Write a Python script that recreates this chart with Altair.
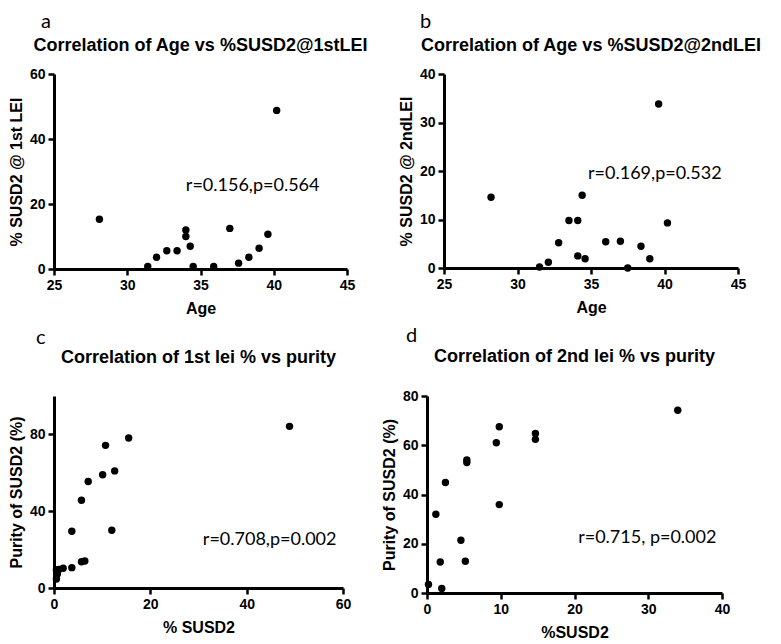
import altair as alt
import pandas as pd

# Panel a: Age vs %SUSD2 @ 1st LEI
a_age = [28.1, 31.4, 32.0, 32.7, 33.4, 34.0, 34.0, 34.3, 34.5, 35.9, 37.0, 37.6, 38.3, 39.0, 39.6, 40.2]
a_susd2 = [15.3, 0.8, 3.6, 5.6, 5.6, 12.0, 10.0, 7.0, 0.8, 0.8, 12.5, 1.8, 3.6, 6.4, 10.7, 48.8]

# Panel b: Age vs %SUSD2 @ 2nd LEI
b_age = [28.2, 31.5, 32.1, 32.8, 33.5, 34.1, 34.1, 34.4, 34.6, 36.0, 37.0, 37.5, 38.4, 39.0, 39.6, 40.2]
b_susd2 = [14.6, 0.2, 1.2, 5.2, 9.8, 9.8, 2.5, 15.0, 1.9, 5.4, 5.5, 0.0, 4.5, 1.9, 33.8, 9.3]

# Panel c: 1st lei % vs purity
c_susd2 = [0.5, 0.7, 0.5, 1.0, 1.9, 3.7, 3.7, 5.7, 6.4, 5.7, 7.1, 10.1, 12.6, 12.0, 10.7, 15.5, 48.9]
c_purity = [4.7, 7.3, 9.4, 9.6, 10.3, 10.6, 29.6, 13.7, 14.1, 45.7, 55.5, 59.0, 61.0, 30.1, 74.3, 78.1, 84.2]

# Panel d: 2nd lei % vs purity
d_susd2 = [0.2, 1.2, 1.8, 2.0, 2.5, 4.6, 5.2, 5.4, 5.4, 9.4, 9.8, 9.8, 14.7, 14.7, 34.0]
d_purity = [3.5, 32.0, 12.6, 1.8, 44.9, 21.4, 12.9, 53.0, 54.0, 61.0, 67.5, 35.9, 64.8, 62.4, 74.2]

titles = ["Correlation of Age vs %SUSD2@1stLEI", "Correlation of Age vs %SUSD2@2ndLEI",
          "Correlation of 1st lei % vs purity", "Correlation of 2nd lei % vs purity"]
letters = ["a", "b", "c", "d"]
annotations = ["r=0.156,p=0.564", "r=0.169,p=0.532", "r=0.708,p=0.002", "r=0.715, p=0.002"]
ann_x = [34.0, 34.8, 30.9, 20.5]
ann_y = [25.6, 19.4, 25.0, 22.2]

BOLD = "Arial"


def panel(xs, ys, xdom, xticks, ydom, yticks, xtitle, ytitle, title, letter, ann, ax, ay,
          w, h, letter_dx, letter_dy, title_dy):
    df = pd.DataFrame({"x": xs, "y": ys})
    pts = alt.Chart(df).mark_circle(size=55, color="black", opacity=1).encode(
        x=alt.X("x:Q", scale=alt.Scale(domain=xdom, nice=False, zero=False),
                axis=alt.Axis(values=xticks, title=xtitle, labelOverlap=False, labelFlush=False)),
        y=alt.Y("y:Q", scale=alt.Scale(domain=ydom, nice=False, zero=False),
                axis=alt.Axis(values=yticks, title=ytitle, labelOverlap=False, labelFlush=False)),
    )
    txt = alt.Chart(pd.DataFrame({"x": [ax], "y": [ay], "t": [ann]})).mark_text(
        align="left", baseline="middle", font="Lato", fontSize=18, color="black"
    ).encode(x="x:Q", y="y:Q", text="t:N")
    ttl = alt.Chart(pd.DataFrame({"t": [title]})).mark_text(
        align="center", baseline="middle", font=BOLD, fontWeight="bold", fontSize=18, color="black"
    ).encode(x=alt.value(w / 2), y=alt.value(title_dy), text="t:N")
    let = alt.Chart(pd.DataFrame({"t": [letter]})).mark_text(
        align="left", baseline="middle", font="Lato", fontSize=20, color="black"
    ).encode(x=alt.value(letter_dx), y=alt.value(letter_dy), text="t:N")
    return alt.layer(pts, txt, ttl, let).properties(width=w, height=h)


pa = panel(a_age, a_susd2, [25, 45], [25, 30, 35, 40, 45], [0, 60], [0, 20, 40, 60],
           "Age", "% SUSD2 @ 1st LEI", titles[0], letters[0], annotations[0], ann_x[0], ann_y[0],
           293, 195, -13, -52, -28)
pb = panel(b_age, b_susd2, [25, 45], [25, 30, 35, 40, 45], [0, 40], [0, 10, 20, 30, 40],
           "Age", "% SUSD2 @ 2ndLEI", titles[1], letters[1], annotations[1], ann_x[1], ann_y[1],
           294, 194, -24, -52, -28)
pc = panel(c_susd2, c_purity, [0, 60], [0, 20, 40, 60], [0, 100], [0, 20, 40, 60, 80, 100],
           "% SUSD2", "Purity of SUSD2 (%)", titles[2], letters[2], annotations[2], ann_x[2], ann_y[2],
           289, 192, -18, -58, -38)
pd_ = panel(d_susd2, d_purity, [0, 40], [0, 10, 20, 30, 40], [0, 80], [0, 20, 40, 60, 80],
            "%SUSD2", "Purity of SUSD2 (%)", titles[3], letters[3], annotations[3], ann_x[3], ann_y[3],
            295, 197, -21, -60, -39)

chart = alt.vconcat(
    alt.hconcat(pa, pb, spacing=30),
    alt.hconcat(pc, pd_, spacing=30),
    spacing=10,
).properties(
    padding={"top": 4, "left": 0, "right": 0, "bottom": 0}, background="white"
).configure_view(stroke=None).configure_axis(
    grid=False,
    domainColor="black",
    domainWidth=3,
    tickColor="black",
    tickWidth=2.5,
    tickSize=6,
    labelColor="black",
    labelFont=BOLD,
    labelFontWeight="bold",
    labelFontSize=14,
    labelPadding=3,
    labelOverlap=False,
    titleColor="black",
    titleFont=BOLD,
    titleFontWeight="bold",
    titleFontSize=16,
).configure_axisX(titlePadding=8).configure_axisY(titlePadding=5)

chart.save("out.html", embed_options={"renderer": "svg", "actions": False})
